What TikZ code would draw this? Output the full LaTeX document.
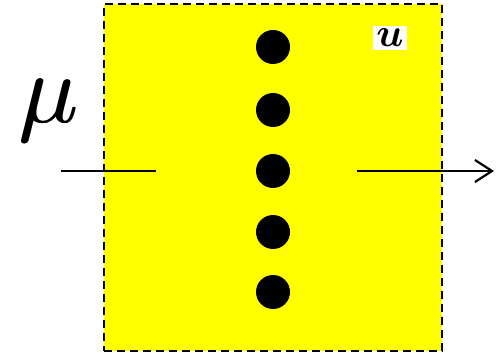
\documentclass[tikz,border=0pt]{standalone}
\usepackage{amsmath,bm}
\usetikzlibrary{arrows.meta}
\definecolor{pureyellow}{RGB}{255,255,0}
\newcommand{\heavymu}{\makebox[0pt][l]{\scalebox{9.9}{$\mu$}}\kern1.6pt\scalebox{9.9}{$\mu$}}
\begin{document}
\begin{tikzpicture}[x=1pt,y=-1pt,
  dotnode/.style={circle,fill=black,inner sep=0pt,minimum size=34pt},
  boxnode/.style={draw=black,fill=pureyellow,dash pattern=on 8pt off 5pt,line width=1.6pt,inner sep=0pt,minimum width=338pt,minimum height=347pt},
  wire/.style={line width=2pt},
  lbl/.style={fill=white,inner sep=3pt}]
\useasboundingbox (0,0) rectangle (497,355);
\node[boxnode] (box) at (273,177.5) {};
\foreach \i/\y in {1/47,2/110,3/171,4/232,5/292}
  \node[dotnode] (d\i) at (273,\y) {};
\node[lbl] (u) at (390,38) {\scalebox{4}{$\bm{u}$}};
\node[inner sep=0pt] (mu) at (49,111) {\heavymu};
\coordinate (inA) at (61,171);
\coordinate (inB) at (156,171);
\coordinate (outA) at (357,171);
\coordinate (outB) at (494,171);
\draw[wire] (inA) -- (inB);
\draw[wire,-{Straight Barb[length=17pt,width=22pt,line width=2.2pt]}] (outA) -- (outB);
\end{tikzpicture}
\end{document}
